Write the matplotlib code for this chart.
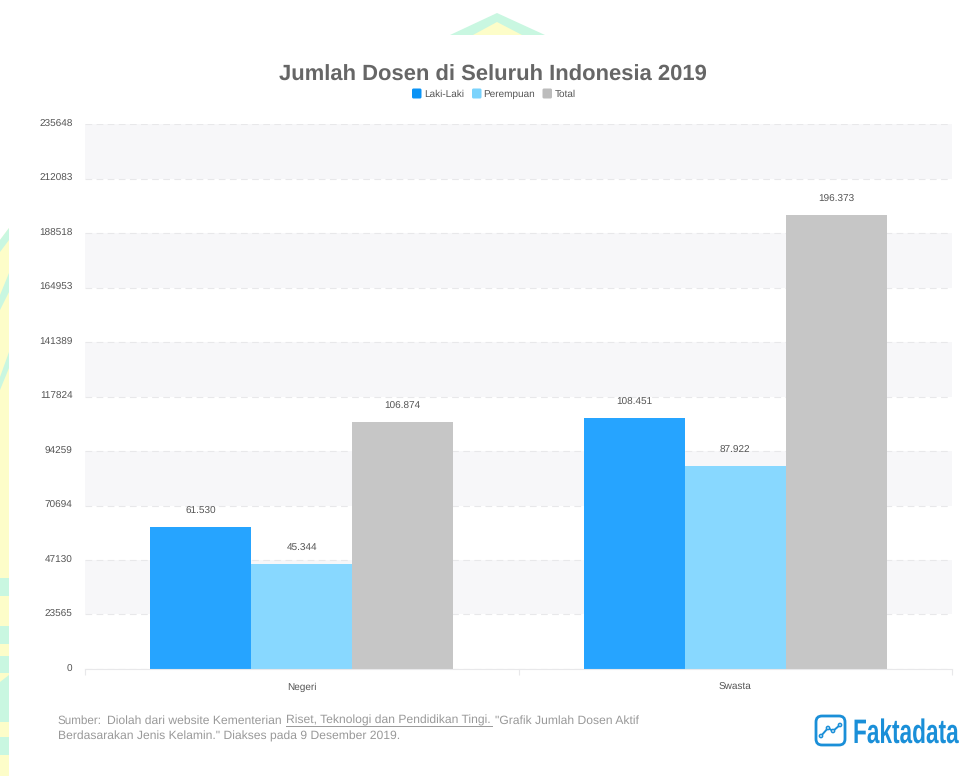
import matplotlib
matplotlib.use('Agg')
import matplotlib.pyplot as plt
from matplotlib.patches import Polygon, Rectangle, FancyBboxPatch, Circle
from matplotlib.lines import Line2D
from matplotlib.patheffects import AbstractPathEffect
from matplotlib.transforms import Affine2D, ScaledTranslation

W, H = 967, 776

# data
kategori = ['Negeri', 'Swasta']
laki_laki = [61530, 108451]
perempuan = [45344, 87922]
total = [106874, 196373]
seri = ['Laki-Laki', 'Perempuan', 'Total']
warna = ['#26a4ff', '#88d8ff', '#c6c6c6']
warna_legend = ['#0a93f5', '#7bd3fc', '#bcbcbc']
y_ticks = [0, 23565, 47130, 70694, 94259, 117824, 141389, 164953, 188518, 212083, 235648]

plt.rcParams['font.family'] = ['Liberation Sans', 'DejaVu Sans']
plt.rcParams['text.hinting'] = 'no_hinting'


class TarikVertikal(AbstractPathEffect):
    """Stretches glyphs vertically about the baseline (tall logo lettering)."""

    def __init__(self, faktor):
        super().__init__()
        self.faktor = faktor

    def draw_path(self, renderer, gc, tpath, affine, rgbFace=None):
        renderer.draw_path(gc, tpath, Affine2D().scale(1, self.faktor) + affine, rgbFace)


fig = plt.figure(figsize=(W / 100, H / 100), dpi=100, facecolor='white')

# background layer in pixel coordinates (y pointing down)
bg = fig.add_axes([0, 0, 1, 1])
bg.set_xlim(0, W)
bg.set_ylim(H, 0)
bg.axis('off')

HIJAU = '#c9f7e1'
KUNING = '#fdfdc9'

# roof ornament at the top
bg.add_patch(Polygon([(450, 35), (497, 13), (545, 35)], fc=HIJAU, ec='none'))
bg.add_patch(Polygon([(473, 35), (497, 22), (522, 35)], fc=KUNING, ec='none'))

# strip on the left edge
bg.add_patch(Polygon([(0, 240), (9, 228), (9, 776), (0, 776)], fc=KUNING, ec='none'))
for y0, y1, y2, y3 in [(240, 228, 240, 252), (295, 273, 292, 310), (377, 352, 368, 390)]:
    bg.add_patch(Polygon([(0, y0), (9, y1), (9, y2), (0, y3)], fc=HIJAU, ec='none'))
for y0, y1 in [(578, 596), (626, 644), (656, 673), (690, 722), (737, 755)]:
    bg.add_patch(Rectangle((0, y0), 9, y1 - y0, fc=HIJAU, ec='none'))
bg.add_patch(Polygon([(0, 682), (9, 675), (9, 690), (0, 690)], fc=HIJAU, ec='none'))

# main axes: x 85-952, y 124-669 in pixels
ax = fig.add_axes([85 / W, 1 - 669 / H, 867 / W, 545 / H])
ax.patch.set_alpha(0)
ax.set_xlim(-0.5, 1.5)
ax.set_ylim(0, 235648)

# alternating bands and dashed grid
for i in range(1, len(y_ticks) - 1, 2):
    ax.axhspan(y_ticks[i], y_ticks[i + 1], fc='#f7f7f9', ec='none', zorder=0)
for t in y_ticks:
    ax.axhline(t, color='#e8e8ea', lw=0.8, ls=(0, (6, 4)), zorder=1)

lebar = 101 / 433.5
for j, (nilai, c) in enumerate(zip([laki_laki, perempuan, total], warna)):
    xs = [i + (j - 1) * lebar for i in range(len(kategori))]
    ax.bar(xs, nilai, width=lebar, color=c, zorder=2, linewidth=0)
    for x, v in zip(xs, nilai):
        label = f'{v:,}'.replace(',', '.')
        ax.annotate(label, (x, v), xytext=(0, 11), textcoords='offset pixels',
                    ha='center', va='bottom', fontsize=7.2, color='#555555', zorder=3)

for s in ['top', 'right', 'left']:
    ax.spines[s].set_visible(False)
ax.spines['bottom'].set_color('#e8e8ea')
ax.spines['bottom'].set_linewidth(0.8)

ax.set_yticks(y_ticks)
ax.set_yticklabels([str(t) for t in y_ticks], fontsize=7.2, color='#555555')
ax.tick_params(axis='y', length=0, pad=9)
geser = ScaledTranslation(0, 1.2 / 100, fig.dpi_scale_trans)
for lbl in ax.get_yticklabels():
    lbl.set_transform(lbl.get_transform() + geser)
ax.set_xticks([-0.5, 0.5, 1.5], minor=True)
ax.tick_params(axis='x', which='minor', length=4, color='#e8e8ea', width=0.8)
ax.set_xticks(range(len(kategori)))
ax.set_xticklabels(kategori, fontsize=7.2, color='#555555', va='baseline')
ax.tick_params(axis='x', which='major', length=0, pad=14.8)

# title and legend
fig.text(493 / W, 1 - 75 / H, 'Jumlah Dosen di Seluruh Indonesia 2019', ha='center', va='center',
         fontsize=15.8, fontweight='bold', color='#666666')

for (kx, tx), nama, c in zip([(412, 424), (472, 483), (542.5, 555)], seri, warna_legend):
    bg.add_patch(FancyBboxPatch((kx, 88.5), 9.5, 10, boxstyle='round,pad=0,rounding_size=1.5',
                                fc=c, ec='none'))
    bg.text(tx, 94, nama, fontsize=7.2, color='#555555', va='center', ha='left')

# source note
bg.text(57, 724, 'Sumber:', fontsize=8.4, color='#999999', va='baseline')
bg.text(107, 724, 'Diolah dari website Kementerian', fontsize=8.7, color='#999999', va='baseline')
bg.text(286, 724, 'Riset, Teknologi dan Pendidikan Tingi.', fontsize=8.7, color='#999999', va='baseline')
bg.add_line(Line2D([286, 492], [725.7, 725.7], color='#999999', lw=0.7))
bg.text(495, 724, '"Grafik Jumlah Dosen Aktif', fontsize=8.7, color='#999999', va='baseline')
bg.text(58, 740, 'Berdasarakan Jenis Kelamin." Diakses pada 9 Desember 2019.', fontsize=8.7,
        color='#999999', va='baseline')

# logo
BIRU = '#1a8fd8'
bg.add_patch(FancyBboxPatch((816, 716), 29, 29, boxstyle='round,pad=0,rounding_size=6',
                            fc='white', ec=BIRU, lw=2))
titik = [(821, 736), (828, 728), (833, 731), (840, 725)]
bg.add_line(Line2D([p[0] for p in titik], [p[1] for p in titik], color=BIRU, lw=1.4))
for p in titik:
    bg.add_patch(Circle(p, 1.6, fc='white', ec=BIRU, lw=1.1, zorder=5))
logo = bg.text(853, 743, 'Faktadata', fontsize=16.3, fontweight='bold', color=BIRU, va='baseline', ha='left')
logo.set_path_effects([TarikVertikal(1.5)])

fig.savefig('out.png', dpi=100)
